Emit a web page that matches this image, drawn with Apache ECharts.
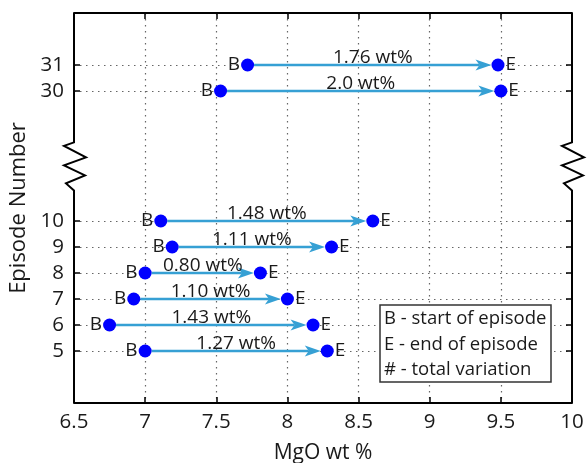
<!DOCTYPE html>
<html><head><meta charset="utf-8">
<script src="https://cdn.jsdelivr.net/npm/echarts@6/dist/echarts.min.js"></script>
<style>html,body{margin:0;padding:0;background:#fff}#c{width:588px;height:463px}</style>
</head><body><div id="c"></div>
<script>
// ---- data ----
const episodes = [5, 6, 7, 8, 9, 10, 30, 31];
const axisPos = [5, 6, 7, 8, 9, 10, 15, 16]; // position of each episode on the broken axis
const startMgO = [7.00, 6.75, 6.92, 7.00, 7.19, 7.11, 7.53, 7.72];
const endMgO = [8.28, 8.18, 8.00, 7.81, 8.31, 8.60, 9.50, 9.48];
const variation = ['1.27 wt%', '1.43 wt%', '1.10 wt%', '0.80 wt%', '1.11 wt%', '1.48 wt%', '2.0 wt%', '1.76 wt%'];
const xTicks = [6.5, 7, 7.5, 8, 8.5, 9, 9.5, 10];
const legendLines = ['B - start of episode', 'E - end of episode', '# - total variation'];
const breakPos = 12.1;

const FONT = '"Open Sans", sans-serif';
const TXT = '#1a1a1a';
const ARROW = '#36a0d4';
const DOT = '#0000ff';
const gridDot = { color: '#666', width: 1.2, type: [1.5, 4.5] };

const posToEpisode = {};
axisPos.forEach((p, i) => posToEpisode[p] = episodes[i]);

const chart = echarts.init(document.getElementById('c'), null, { renderer: 'canvas' });

const arrowData = axisPos.map((p, i) => [startMgO[i], endMgO[i], p]);

chart.setOption({
  animation: false,
  backgroundColor: '#fff',
  grid: { left: 74, right: 16, top: 13, bottom: 60, containLabel: false, outerBoundsMode: 'none' },
  xAxis: [{
    type: 'value', position: 'bottom', min: xTicks[0], max: xTicks[xTicks.length - 1], interval: 0.5,
    name: 'MgO wt %', nameLocation: 'middle', nameGap: 40,
    nameTextStyle: { fontFamily: FONT, fontSize: 21, color: TXT },
    axisLine: { show: true, lineStyle: { color: '#000', width: 2 } },
    axisTick: { show: true, inside: true, length: 6, lineStyle: { color: '#000', width: 1.5 } },
    axisLabel: { fontFamily: FONT, fontSize: 20.5, color: TXT, margin: 9, formatter: v => String(v) },
    splitLine: { show: true, showMinLine: false, showMaxLine: false, lineStyle: gridDot }
  }, {
    type: 'value', position: 'top', min: xTicks[0], max: xTicks[xTicks.length - 1], interval: 0.5,
    axisLine: { show: true, lineStyle: { color: '#000', width: 2 } },
    axisTick: { show: true, inside: true, length: 6, lineStyle: { color: '#000', width: 1.5 } },
    axisLabel: { show: false }, splitLine: { show: false }
  }],
  yAxis: [{
    type: 'value', position: 'left', min: 3, max: 18, interval: 1,
    name: 'Episode Number', nameLocation: 'middle', nameGap: 44, nameMoveOverlap: false,
    nameTextStyle: { fontFamily: FONT, fontSize: 22, color: TXT },
    axisLine: { show: false },
    axisTick: { show: true, inside: true, length: 6, customValues: axisPos, lineStyle: { color: '#000', width: 1.5 } },
    axisLabel: { fontFamily: FONT, fontSize: 20.5, color: TXT, margin: 10, customValues: axisPos,
      formatter: v => posToEpisode[v] !== undefined ? String(posToEpisode[v]) : '' },
    splitLine: { show: false }
  }, {
    type: 'value', position: 'right', min: 3, max: 18, interval: 1,
    axisLine: { show: false },
    axisTick: { show: true, inside: true, length: 6, customValues: axisPos, lineStyle: { color: '#000', width: 1.5 } },
    axisLabel: { show: false }, splitLine: { show: false }
  }],
  series: [{
    type: 'scatter', name: 'grid', data: [], z: 0, silent: true,
    markLine: {
      silent: true, symbol: 'none', label: { show: false }, z: 0,
      lineStyle: gridDot,
      data: axisPos.map(p => ({ yAxis: p }))
    }
  }, {
    type: 'custom',
    xAxisIndex: 0, yAxisIndex: 0,
    data: arrowData,
    encode: { x: [0, 1], y: 2 },
    z: 3,
    silent: true,
    renderItem(params, api) {
      const b = api.coord([api.value(0), api.value(2)]);
      const e = api.coord([api.value(1), api.value(2)]);
      const r = 6.5, y = b[1];
      const tipX = e[0] - r, headL = 16, headW = 5.5, notch = 4;
      return {
        type: 'group', children: [
          { type: 'line', shape: { x1: b[0] + r, y1: y, x2: tipX - headL + notch, y2: y },
            style: { stroke: ARROW, lineWidth: 2.6 } },
          { type: 'polygon', shape: { points: [[tipX, y], [tipX - headL, y - headW], [tipX - headL + notch, y], [tipX - headL, y + headW]] },
            style: { fill: ARROW } },
          { type: 'text', x: (b[0] + e[0]) / 2, y: y + 2,
            style: { text: variation[params.dataIndex], fontFamily: FONT, fontSize: 19, fill: TXT, align: 'center', verticalAlign: 'bottom' } }
        ]
      };
    }
  }, {
    type: 'scatter', name: 'start', symbol: 'circle', symbolSize: 13, z: 5,
    itemStyle: { color: DOT, opacity: 1 },
    label: { show: true, position: 'left', distance: 1, formatter: 'B', fontFamily: FONT, fontSize: 19, color: TXT },
    data: axisPos.map((p, i) => [startMgO[i], p])
  }, {
    type: 'scatter', name: 'end', symbol: 'circle', symbolSize: 13, z: 5,
    itemStyle: { color: DOT, opacity: 1 },
    label: { show: true, position: 'right', distance: 1, formatter: 'E', fontFamily: FONT, fontSize: 19, color: TXT },
    data: axisPos.map((p, i) => [endMgO[i], p])
  }]
});

// axis lines with break marks, placed from the axis scales
const tl = chart.convertToPixel({ gridIndex: 0 }, [xTicks[0], 18]);
const br = chart.convertToPixel({ gridIndex: 0 }, [xTicks[xTicks.length - 1], 3]);
const bk = chart.convertToPixel({ gridIndex: 0 }, [xTicks[0], breakPos])[1];
const zig = [[0, -24], [-10, -20.5], [12, -9], [-10, -1], [11, 9], [-8, 17], [0, 24]];
function axisPoly(x) {
  const pts = [[x, tl[1]]];
  zig.forEach(d => pts.push([x + d[0], bk + d[1]]));
  pts.push([x, br[1]]);
  return { type: 'polyline', z: 100, shape: { points: pts }, style: { stroke: '#000', lineWidth: 2, fill: null } };
}
const lg = { x: 380, y: 305, w: 171, h: 77 };
chart.setOption({
  graphic: [
    axisPoly(tl[0]), axisPoly(br[0]),
    { type: 'rect', z: 100, shape: { x: lg.x, y: lg.y, width: lg.w, height: lg.h }, style: { fill: '#fff', stroke: '#333', lineWidth: 1.5 } }
  ].concat(legendLines.map((t, i) => ({
    type: 'text', z: 101, x: lg.x + 4, y: lg.y + 14 + i * 25.5,
    style: { text: t, fontFamily: FONT, fontSize: 18.5, fill: TXT, verticalAlign: 'middle' }
  })))
});
</script>
</body></html>
